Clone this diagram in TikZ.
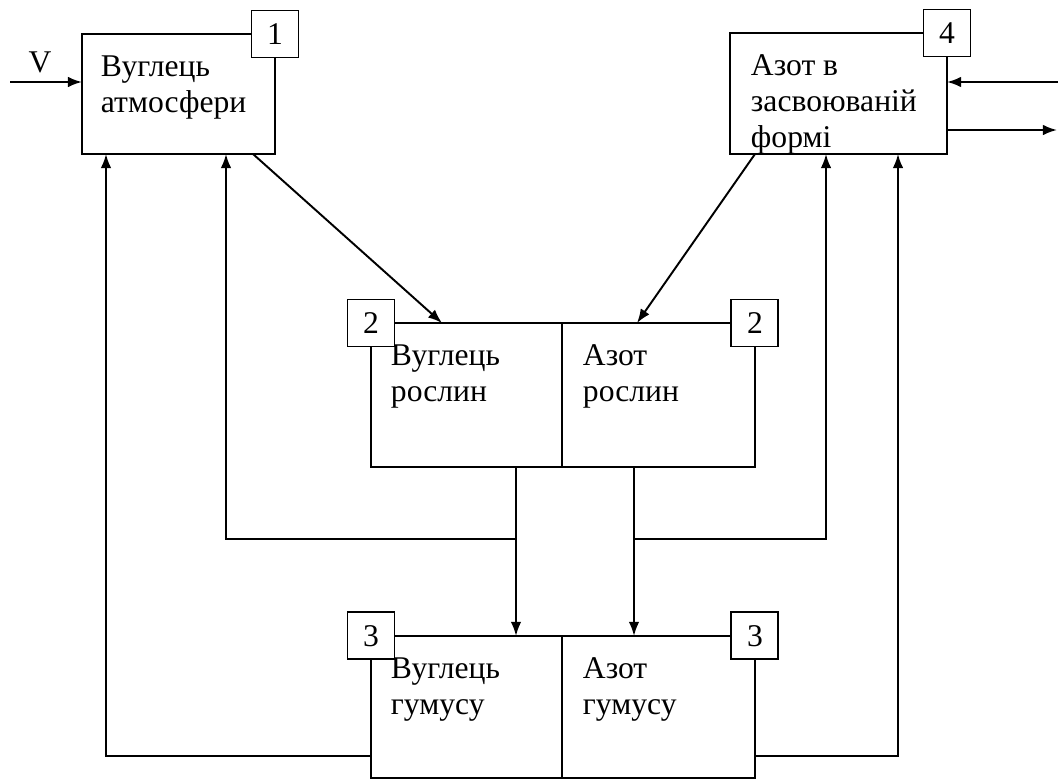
\documentclass[tikz,border=0pt]{standalone}
\usepackage{fontspec}
\setmainfont{Liberation Serif}
\usepackage{tikz}
\usetikzlibrary{arrows.meta,positioning,calc}

\tikzset{
  blockbox/.style={draw, outer sep=0pt, line width=1.1pt},
  numbox/.style={draw, fill=white, outer sep=0pt, line width=1.1pt, minimum size=0.94cm, inner sep=0pt},
  blocktext/.style={anchor=north west, inner sep=0pt, align=left},
}

\begin{document}
\begin{tikzpicture}[x=0.02cm, y=-0.02cm, >={Latex[length=8pt,width=6pt]}, line width=1.1pt,
    font=\fontsize{18}{20.5}\selectfont]
  \useasboundingbox (0,0) rectangle (1058,781);

  % carbon and nitrogen pools
  \node[blockbox, minimum width=3.86cm, minimum height=2.40cm] (c1) at (178.5,94) {};
  \node[blockbox, minimum width=4.34cm, minimum height=2.42cm] (n4) at (838.5,93.5) {};
  \node[blockbox, minimum width=3.82cm, minimum height=2.88cm] (cp) at (466.5,395) {};
  \node[blockbox, minimum width=3.86cm, minimum height=2.88cm, right=0pt of cp] (np) {};
  \node[blockbox, minimum width=3.82cm, minimum height=2.84cm, below=3.38cm of cp] (ch) {};
  \node[blockbox, minimum width=3.86cm, minimum height=2.84cm, right=0pt of ch] (nh) {};

  \node[blocktext] (c1t) at ($(c1.north west)+(18,21)$) {Вуглець\\атмосфери};
  \node[blocktext] (n4t) at ($(n4.north west)+(20,21)$) {Азот в\\засвоюваній\\формі};
  \node[blocktext] (cpt) at ($(cp.north west)+(19,21)$) {Вуглець\\рослин};
  \node[blocktext] (npt) at ($(np.north west)+(20,21)$) {Азот\\рослин};
  \node[blocktext] (cht) at ($(ch.north west)+(19,21)$) {Вуглець\\гумусу};
  \node[blocktext] (nht) at ($(nh.north west)+(20,21)$) {Азот\\гумусу};

  % numbered tags on the corners
  \node[numbox] (k1) at (c1.north east) {1};
  \node[numbox] (k4) at (n4.north east) {4};
  \node[numbox] (k2a) at (cp.north west) {2};
  \node[numbox] (k2b) at (np.north east) {2};
  \node[numbox] (k3a) at (ch.north west) {3};
  \node[numbox] (k3b) at (nh.north east) {3};

  % external flows
  \coordinate (vin) at (10,82);
  \coordinate (nin) at (1058,82);
  \coordinate (nout) at (1057,130);
  \node[anchor=base] (vlab) at (40,72) {V};
  \draw[->] (vin) -- (vin -| c1.west);
  \draw[->] (nin) -- (nin -| n4.east);
  \draw[->] (nout -| n4.east) -- (nout);

  % uptake by plants
  \draw[->] ($(c1.south east)+(-22,0)$) -- ($(cp.north west)+(71,0)$);
  \draw[->] ($(n4.south west)+(25,0)$) -- ($(np.north west)+(75,0)$);

  % litter to humus
  \coordinate (cdn) at (516,467);
  \coordinate (ndn) at (634,467);
  \draw[->] (cdn) -- (cdn |- ch.north);
  \draw[->] (ndn) -- (ndn |- nh.north);

  % returns to the atmosphere and the available pool
  \draw[->] (516,539) -| (226,154);
  \draw[->] (634,539) -| (826,154);
  \draw[->] (ch.west |- 0,756) -| (106,154);
  \draw[->] (nh.east |- 0,756) -| (898,154);
\end{tikzpicture}
\end{document}
